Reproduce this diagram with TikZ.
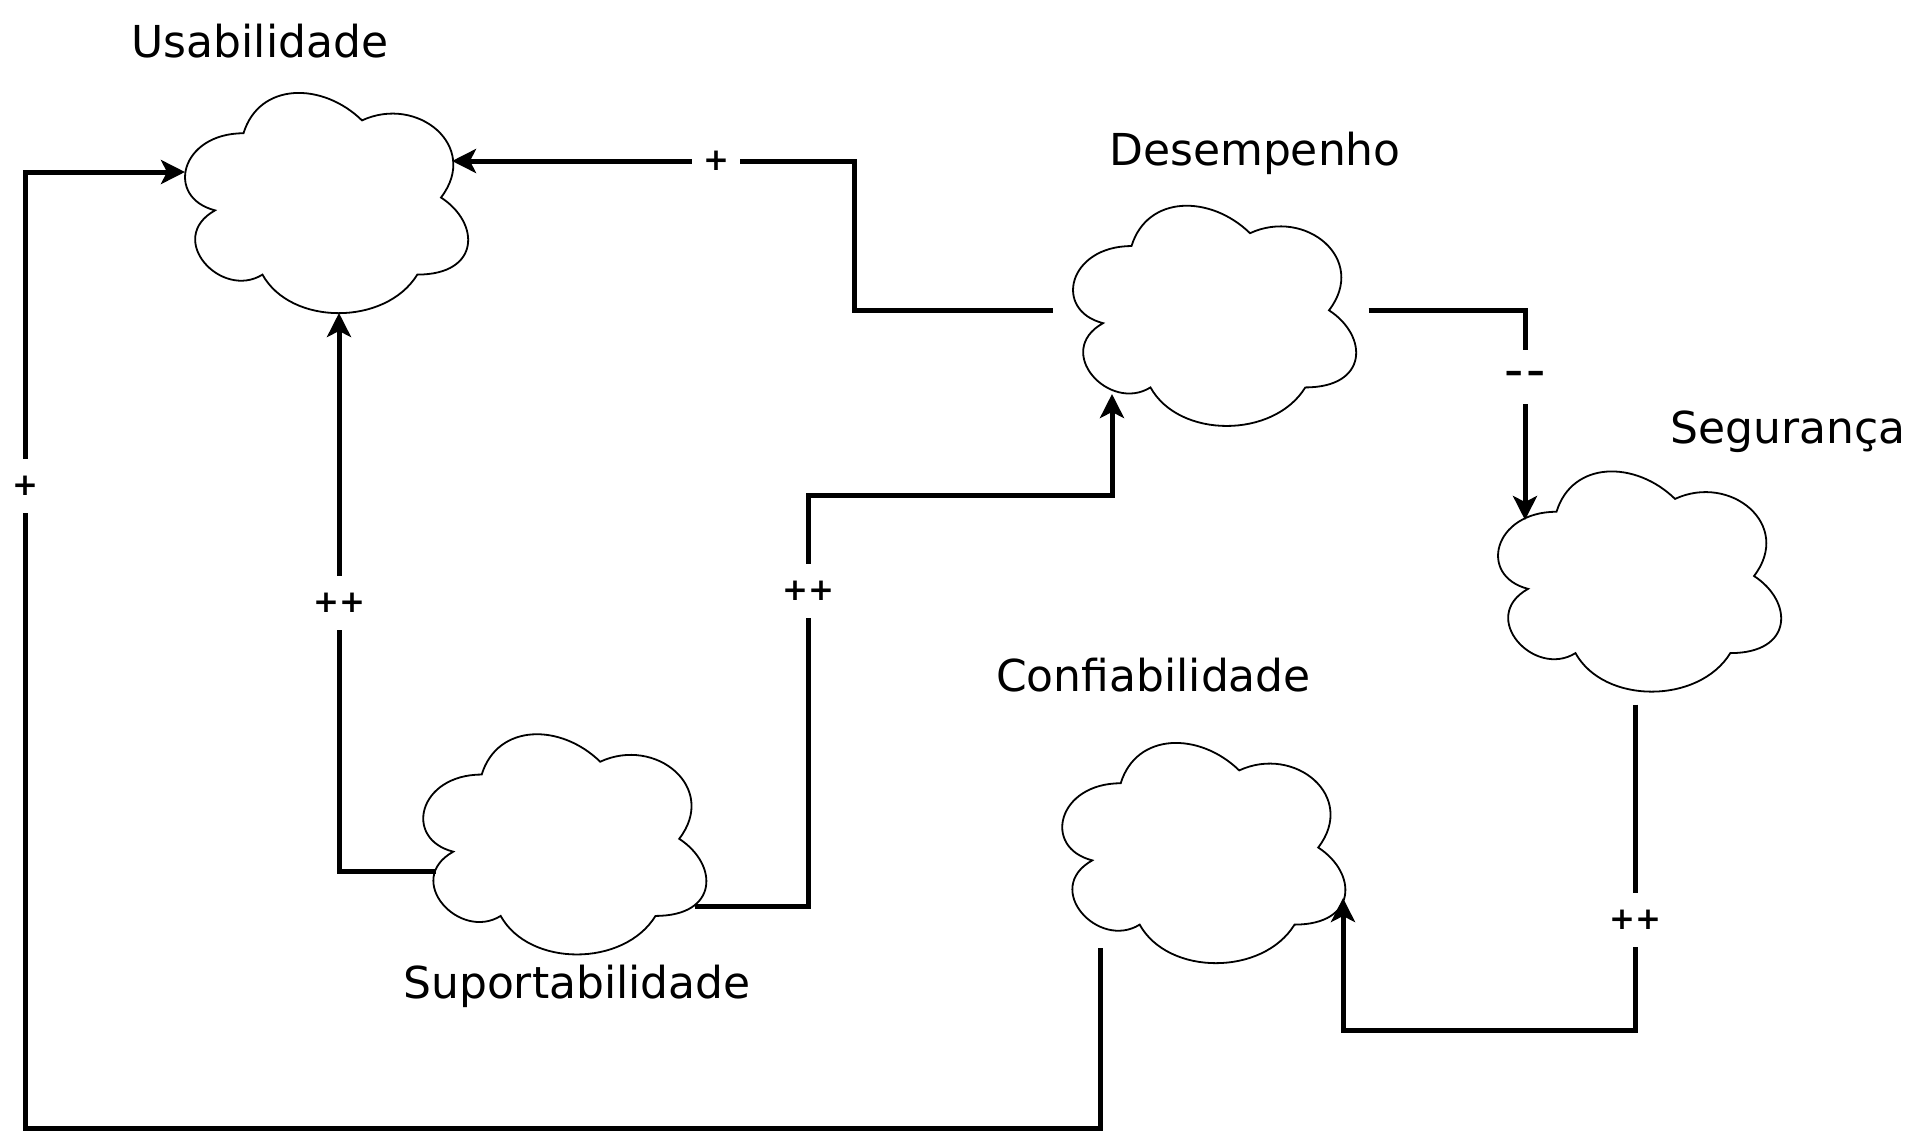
\documentclass[tikz,border=0pt]{standalone}
\usepackage{graphicx}
\usepackage{fontspec}
\setmainfont{DejaVu Sans}[BoldFont={DejaVu Sans Bold}]
\usetikzlibrary{arrows.meta,calc}
\newcommand\cloudshape[2]{%
  \begin{scope}[shift={(#1,#2)}, x={(316pt,0pt)}, y={(0pt,-257pt)}]
    \draw[cloudline] (0.25,0.25) .. controls (0.05,0.25) and (0,0.5) .. (0.16,0.55)
       .. controls (0,0.66) and (0.18,0.9) .. (0.31,0.8)
       .. controls (0.4,1) and (0.7,1) .. (0.8,0.8)
       .. controls (1,0.8) and (1,0.6) .. (0.875,0.5)
       .. controls (1,0.3) and (0.8,0.1) .. (0.625,0.2)
       .. controls (0.5,0.05) and (0.3,0.05) .. (0.25,0.25) -- cycle;
  \end{scope}}
\newcommand\dsh{\scalebox{1.5}[1]{-}}
\tikzset{
 cloudbox/.style={minimum width=316pt, minimum height=257pt, inner sep=0pt, outer sep=0pt},
 cloudline/.style={line width=1.8pt, fill=white},
 ttl/.style={anchor=base, font=\fontsize{44}{52}\selectfont, inner sep=0pt},
 conn/.style={line width=5pt, -{Stealth[length=24pt,width=24pt,inset=6pt]}},
 lbl/.style={fill=white, font=\bfseries\fontsize{31}{35}\selectfont, inner xsep=11pt, inner ysep=0pt, minimum height=54pt},
}
\begin{document}
\begin{tikzpicture}[x=1pt,y=-1pt]
\useasboundingbox (0,0) rectangle (1918,1144);
% clouds (nodes for connections, outlines drawn on their boxes)
\node[cloudbox] (U) at (322.5,197.5) {};
\node[cloudbox] (D) at (1210.5,310.3) {};
\node[cloudbox] (S) at (1635.5,576) {};
\node[cloudbox] (P) at (560.7,838.8) {};
\node[cloudbox] (C) at (1199.7,847.5) {};
\cloudshape{164.5}{69}
\cloudshape{1052.5}{181.8}
\cloudshape{1477.5}{447.5}
\cloudshape{402.7}{710.3}
\cloudshape{1041.7}{719}
% titles
\node[ttl] (tU) at (260,57) {Usabilidade};
\node[ttl] (tD) at (1255,165) {Desempenho};
\node[ttl] (tS) at (1788,443) {Segurança};
\node[ttl] (tC) at (1153.5,691) {Confiabilidade};
\node[ttl] (tP) at (577,998) {Suportabilidade};
% connector ends
\coordinate (u-r) at ([shift={(129.5,-36.5)}]U.center);
\coordinate (u-b) at ([shift={(16.5,115.5)}]U.center);
\coordinate (u-l) at ([shift={(-137.5,-25.5)}]U.center);
\coordinate (d-b) at ([shift={(-98.5,83.7)}]D.center);
\coordinate (s-t) at ([shift={(-110.5,-56)}]S.center);
\coordinate (p-l) at ([shift={(-124.7,32.2)}]P.center);
\coordinate (p-r) at ([shift={(134.3,67.2)}]P.center);
\coordinate (c-r) at ([shift={(143.3,50.5)}]C.center);
\coordinate (c-b) at ([shift={(-99.7,100.5)}]C.center);
% connectors
\draw[conn] (D.west) -| (854,161) -- node[lbl,pos=0.343]{+} (u-r);
\draw[conn] (D.east) -| node[lbl,pos=0.66]{\dsh\kern3pt\dsh} (s-t);
\draw[conn] (p-l) -| node[lbl,pos=0.74]{++} (u-b);
\draw[conn] (p-r) -| node[lbl,pos=0.883]{++} (808,495) -| (d-b);
\draw[conn] (S.south) -- node[lbl,pos=0.662]{++} ++(0,325.5) -| (c-r);
\draw[conn] (c-b) -- ++(0,180) -| node[lbl,pos=0.836]{+} (25,172) -- (u-l);
\end{tikzpicture}
\end{document}
